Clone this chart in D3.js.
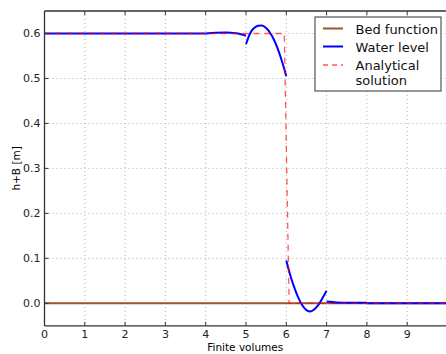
<!DOCTYPE html>
<html lang="en">
<head>
    <meta charset="UTF-8">
    <title>Water level vs analytical solution</title>
    <script src="https://d3js.org/d3.v7.min.js"></script>
    <style>
        body {
            margin: 0;
            background: #fff;
            font-family: "DejaVu Sans", sans-serif;
        }

        .grid line {
            stroke: #b0b0b0;
            stroke-width: 1px;
            stroke-dasharray: 1, 3;
        }

        .tick-label {
            font-size: 11px;
            fill: #222;
        }

        .legend text {
            font-size: 13px;
            fill: #111;
        }
    </style>
</head>
<body>
    <div id="chart"></div>

    <script>
        // axis ticks
        const xTicks = [0, 1, 2, 3, 4, 5, 6, 7, 8, 9];
        const yTicks = [0.0, 0.1, 0.2, 0.3, 0.4, 0.5, 0.6];

        // bed function (flat)
        const bedX = [0, 10];
        const bedY = [0, 0];

        // water level, one piece per cell group (discontinuous at cell edges)
        const waterPieces = [
            { x: [0, 1, 2, 3, 4], y: [0.600, 0.600, 0.600, 0.600, 0.600] },
            { x: [4, 4.25, 4.5, 4.75, 5], y: [0.600, 0.6015, 0.602, 0.6005, 0.595] },
            { x: [5, 5.1, 5.2, 5.3, 5.4, 5.5, 5.6, 5.7, 5.8, 5.9, 6],
              y: [0.576, 0.600, 0.612, 0.617, 0.618, 0.612, 0.601, 0.585, 0.563, 0.536, 0.505] },
            { x: [6, 6.1, 6.2, 6.3, 6.4, 6.5, 6.6, 6.7, 6.8, 6.9, 7],
              y: [0.095, 0.062, 0.035, 0.012, -0.005, -0.015, -0.018, -0.013, -0.003, 0.012, 0.028] },
            { x: [7, 7.25, 7.5, 7.75, 8], y: [0.004, 0.002, 0.001, 0.001, 0.001] },
            { x: [8, 9, 10], y: [0.000, 0.000, 0.000] }
        ];

        // analytical solution
        const exactX = [0, 5.95, 6.07, 10];
        const exactY = [0.6, 0.6, 0.0, 0.0];

        const legendLabels = ["Bed function", "Water level", ["Analytical", "solution"]];

        const width = 446, height = 354;
        const mLeft = 44.5, mTop = 11, mBottom = 325.8;

        const x = d3.scaleLinear().domain([0, 10]).range([mLeft, 447.5]);
        const y = d3.scaleLinear().domain([-0.05, 0.65]).range([mBottom, mTop]);

        const svg = d3.select("#chart").append("svg")
            .attr("width", width)
            .attr("height", height);

        svg.append("defs").append("clipPath").attr("id", "clip")
            .append("rect")
            .attr("x", mLeft).attr("y", mTop)
            .attr("width", width - mLeft).attr("height", mBottom - mTop);

        // grid
        const grid = svg.append("g").attr("class", "grid");
        grid.selectAll(".vx").data(xTicks.slice(1)).enter().append("line")
            .attr("x1", d => x(d)).attr("x2", d => x(d))
            .attr("y1", mTop).attr("y2", mBottom);
        grid.selectAll(".hy").data(yTicks).enter().append("line")
            .attr("x1", mLeft).attr("x2", width)
            .attr("y1", d => y(d)).attr("y2", d => y(d));

        const plot = svg.append("g").attr("clip-path", "url(#clip)");

        const line = d3.line()
            .x(d => x(d[0]))
            .y(d => y(d[1]));

        const smooth = d3.line()
            .x(d => x(d[0]))
            .y(d => y(d[1]))
            .curve(d3.curveMonotoneX);

        // bed
        plot.append("path")
            .datum(d3.zip(bedX, bedY))
            .attr("d", line)
            .attr("fill", "none")
            .attr("stroke", "#a0522d")
            .attr("stroke-width", 2);

        // water level
        plot.selectAll(".water").data(waterPieces).enter().append("path")
            .attr("class", "water")
            .attr("d", p => smooth(d3.zip(p.x, p.y)))
            .attr("fill", "none")
            .attr("stroke", "#0000ff")
            .attr("stroke-width", 2);

        // analytical
        plot.append("path")
            .datum(d3.zip(exactX, exactY))
            .attr("d", line)
            .attr("fill", "none")
            .attr("stroke", "#ff0000")
            .attr("stroke-opacity", 0.65)
            .attr("stroke-width", 1.3)
            .attr("stroke-dasharray", "6,5");

        // spines
        svg.append("line")
            .attr("x1", mLeft).attr("x2", mLeft).attr("y1", mTop).attr("y2", mBottom)
            .attr("stroke", "#333").attr("stroke-width", 1.3);
        svg.append("line")
            .attr("x1", mLeft).attr("x2", width).attr("y1", mTop).attr("y2", mTop)
            .attr("stroke", "#333").attr("stroke-width", 1.3);
        svg.append("line")
            .attr("x1", mLeft).attr("x2", width).attr("y1", mBottom).attr("y2", mBottom)
            .attr("stroke", "#333").attr("stroke-width", 1.3);

        // ticks pointing inward
        svg.selectAll(".xt").data(xTicks).enter().append("line")
            .attr("x1", d => x(d)).attr("x2", d => x(d))
            .attr("y1", mBottom).attr("y2", mBottom - 4)
            .attr("stroke", "#333");
        svg.selectAll(".xt2").data(xTicks).enter().append("line")
            .attr("x1", d => x(d)).attr("x2", d => x(d))
            .attr("y1", mTop).attr("y2", mTop + 4)
            .attr("stroke", "#333");
        svg.selectAll(".yt").data(yTicks).enter().append("line")
            .attr("x1", mLeft).attr("x2", mLeft + 4)
            .attr("y1", d => y(d)).attr("y2", d => y(d))
            .attr("stroke", "#333");

        svg.selectAll(".xl").data(xTicks).enter().append("text")
            .attr("class", "tick-label")
            .attr("x", d => x(d))
            .attr("y", mBottom + 12)
            .attr("text-anchor", "middle")
            .text(d => d);
        svg.selectAll(".yl").data(yTicks).enter().append("text")
            .attr("class", "tick-label")
            .attr("x", mLeft - 4)
            .attr("y", d => y(d) + 4)
            .attr("text-anchor", "end")
            .text(d => d.toFixed(1));

        // axis labels
        svg.append("text")
            .attr("x", (mLeft + width) / 2)
            .attr("y", 351)
            .attr("text-anchor", "middle")
            .style("font-size", "10.5px")
            .text("Finite volumes");
        svg.append("text")
            .attr("transform", `translate(20,${(mTop + mBottom) / 2}) rotate(-90)`)
            .attr("text-anchor", "middle")
            .style("font-size", "10.5px")
            .text("h+B [m]");

        // legend
        const legend = svg.append("g").attr("class", "legend");
        legend.append("rect")
            .attr("x", 315).attr("y", 17)
            .attr("width", 126).attr("height", 74)
            .attr("fill", "#fff")
            .attr("stroke", "#555")
            .attr("stroke-width", 1.2);

        const swatches = [
            { color: "#a0522d", dash: null, op: 1, w: 2 },
            { color: "#0000ff", dash: null, op: 1, w: 2 },
            { color: "#ff0000", dash: "5,4", op: 0.65, w: 1.3 }
        ];
        const rowY = [28.5, 46.5, 65];
        legendLabels.forEach((lab, i) => {
            legend.append("line")
                .attr("x1", 323).attr("x2", 343)
                .attr("y1", rowY[i]).attr("y2", rowY[i])
                .attr("stroke", swatches[i].color)
                .attr("stroke-opacity", swatches[i].op)
                .attr("stroke-width", swatches[i].w)
                .attr("stroke-dasharray", swatches[i].dash);
            const lines = Array.isArray(lab) ? lab : [lab];
            lines.forEach((t, j) => {
                legend.append("text")
                    .attr("x", 355.5)
                    .attr("y", rowY[i] + 5 + j * 14.5)
                    .text(t);
            });
        });
    </script>
</body>
</html>
